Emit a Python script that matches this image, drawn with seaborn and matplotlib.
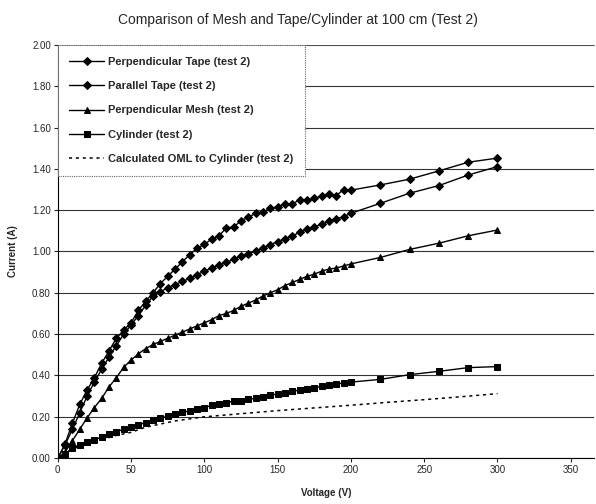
import matplotlib
matplotlib.use("Agg")
import matplotlib.pyplot as plt
import pandas as pd
import seaborn as sns


TITLE = "Comparison of Mesh and Tape/Cylinder at 100 cm (Test 2)"

# measured voltages: every 5 V up to 200 V, then every 20 V
VOLTAGE = list(range(0, 201, 5)) + [220, 240, 260, 280, 300]

PERP_TAPE = [
    0.00, 0.07, 0.17, 0.26, 0.33, 0.39, 0.46, 0.52, 0.58, 0.62,
    0.655, 0.715, 0.76, 0.80, 0.845, 0.88, 0.915, 0.95, 0.985, 1.015,
    1.035, 1.06, 1.075, 1.115, 1.118, 1.15, 1.165, 1.185, 1.19, 1.21,
    1.215, 1.232, 1.23, 1.25, 1.25, 1.258, 1.268, 1.28, 1.27, 1.30,
    1.297, 1.322, 1.35, 1.39, 1.432, 1.452,
]
PARA_TAPE = [
    0.00, 0.065, 0.14, 0.22, 0.30, 0.37, 0.43, 0.49, 0.545, 0.60,
    0.645, 0.69, 0.74, 0.785, 0.805, 0.825, 0.84, 0.855, 0.87, 0.888,
    0.905, 0.92, 0.935, 0.947, 0.962, 0.977, 0.988, 1.003, 1.016, 1.033,
    1.048, 1.062, 1.075, 1.093, 1.107, 1.12, 1.132, 1.147, 1.158, 1.168,
    1.185, 1.233, 1.282, 1.319, 1.37, 1.411,
]
PERP_MESH = [
    0.00, 0.03, 0.085, 0.14, 0.195, 0.245, 0.29, 0.345, 0.39, 0.44,
    0.475, 0.505, 0.53, 0.55, 0.565, 0.58, 0.595, 0.61, 0.625, 0.64,
    0.655, 0.67, 0.69, 0.70, 0.715, 0.735, 0.75, 0.765, 0.785, 0.80,
    0.815, 0.835, 0.85, 0.865, 0.88, 0.89, 0.905, 0.915, 0.92, 0.93,
    0.94, 0.971, 1.01, 1.04, 1.076, 1.104,
]
CYLINDER = [
    0.00, 0.02, 0.05, 0.065, 0.078, 0.088, 0.103, 0.117, 0.128, 0.14,
    0.152, 0.162, 0.172, 0.184, 0.193, 0.203, 0.212, 0.221, 0.229, 0.237,
    0.245, 0.255, 0.262, 0.269, 0.275, 0.277, 0.284, 0.29, 0.297, 0.304,
    0.311, 0.317, 0.324, 0.329, 0.336, 0.341, 0.347, 0.352, 0.359, 0.364,
    0.368, 0.381, 0.404, 0.42, 0.438, 0.443,
]

OML_VOLTAGE = [0, 5, 10, 20, 30, 40, 50, 60, 70, 80, 90, 100,
               125, 150, 175, 200, 225, 250, 275, 300]
OML_CURRENT = [0.0, 0.03, 0.045, 0.07, 0.09, 0.11, 0.125, 0.15, 0.165, 0.18, 0.19, 0.20,
               0.215, 0.23, 0.243, 0.256, 0.27, 0.283, 0.297, 0.312]

LABELS = [
    "Perpendicular Tape (test 2)",
    "Parallel Tape (test 2)",
    "Perpendicular Mesh (test 2)",
    "Cylinder (test 2)",
    "Calculated OML to Cylinder (test 2)",
]


def main():
    sns.set_style("white")
    plt.rcParams["font.family"] = ["Liberation Sans", "DejaVu Sans"]

    fig = plt.figure(figsize=(5.96, 5.04), dpi=100)
    ax = fig.add_axes([0.097, 0.091, 0.900, 0.820])

    series = [
        (PERP_TAPE, "D", 4.0),
        (PARA_TAPE, "D", 4.0),
        (PERP_MESH, "^", 4.5),
        (CYLINDER, "s", 4.0),
    ]
    for (values, marker, size), label in zip(series, LABELS):
        df = pd.DataFrame({"voltage": VOLTAGE, "current": values})
        sns.lineplot(data=df, x="voltage", y="current", ax=ax, color="black",
                     linewidth=1.0, marker=marker, markersize=size,
                     markeredgecolor="black", label=label)

    oml = pd.DataFrame({"voltage": OML_VOLTAGE, "current": OML_CURRENT})
    sns.lineplot(data=oml, x="voltage", y="current", ax=ax, color="black",
                 linewidth=1.1, linestyle=(0, (2, 2.5)), label=LABELS[4])

    ax.set_xlim(0, 366)
    ax.set_ylim(0, 2.0)
    ax.set_xticks(range(0, 351, 50))
    ax.set_yticks([i * 0.2 for i in range(11)])
    ax.set_yticklabels([f"{i * 0.2:.2f}" for i in range(11)])
    ax.tick_params(axis="both", labelsize=7, length=3, direction="out",
                   left=True, bottom=True, pad=2)
    ax.yaxis.grid(True, color="#333333", linewidth=0.8)
    ax.xaxis.grid(False)
    ax.spines["right"].set_visible(False)
    ax.spines["top"].set_color("#555555")
    ax.spines["top"].set_linewidth(0.6)
    ax.spines["left"].set_color("black")
    ax.spines["bottom"].set_color("black")

    ax.set_xlabel("Voltage (V)", fontsize=7, fontweight="bold", labelpad=9)
    ax.set_ylabel("Current (A)", fontsize=7, fontweight="bold", labelpad=10)
    fig.suptitle(TITLE, fontsize=10, y=0.975)

    leg = ax.legend(loc="upper left", bbox_to_anchor=(0, 1), borderaxespad=0,
                    prop={"weight": "bold", "size": 8},
                    handlelength=3.1, handletextpad=0.35, labelspacing=1.3,
                    borderpad=1.05, frameon=True, fancybox=False, framealpha=1)
    leg.get_frame().set_edgecolor("#666666")
    leg.get_frame().set_linestyle((0, (1, 1)))
    leg.get_frame().set_linewidth(0.8)

    fig.savefig("out.png", dpi=100)
    plt.close(fig)


if __name__ == "__main__":
    main()
